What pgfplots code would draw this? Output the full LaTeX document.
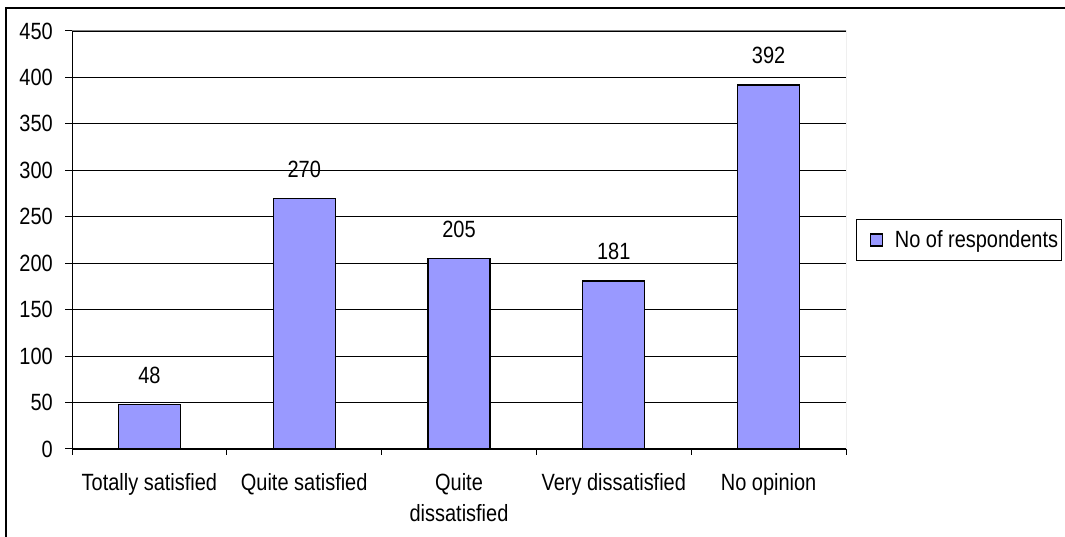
\documentclass[border=0pt]{standalone}
\usepackage{pgfplots}
\pgfplotsset{compat=1.18}
\usepackage{fontspec}
\setmainfont{Liberation Sans}[FakeStretch=0.85]
\definecolor{barblue}{HTML}{9999FF}
\definecolor{bordergray}{HTML}{808080}
\newcommand{\chartfont}{\fontsize{23.5}{31}\selectfont}
\begin{document}
\begin{tikzpicture}[x=1pt,y=1pt]
\useasboundingbox (0,0) rectangle (1065,537);
% outer chart frame (right and bottom edges fall outside the picture)
\draw[line width=2pt] (6,-10) -- (6,529) -- (1080,529);
\begin{axis}[
  at={(72pt,88pt)}, anchor=south west,
  scale only axis, width=774pt, height=418pt,
  ybar, bar width=0.4,
  xmin=-0.5, xmax=4.5, ymin=0, ymax=450,
  ytick={0,50,...,450},
  xtick={0,...,4},
  xticklabels={Totally satisfied, Quite satisfied, {Quite\\dissatisfied}, Very dissatisfied, No opinion},
  minor xtick={-0.5,0.5,...,4.5},
  axis x line*=bottom, axis y line*=left,
  axis line style={black, line width=1pt, -},
  ymajorgrids, grid style={black, line width=0.8pt},
  tick align=outside,
  major tick length=7pt, minor tick length=6pt,
  major x tick style={draw=none},
  minor x tick style={black, line width=1pt},
  ytick style={black, line width=1pt},
  /pgf/number format/assume math mode=true,
  ticklabel style={font=\chartfont},
  yticklabel style={inner sep=0pt, xshift=-12pt},
  xticklabel style={align=center, inner sep=0pt, yshift=-17pt},
  nodes near coords,
  nodes near coords style={font=\chartfont, inner sep=0pt, yshift=20pt},
  legend style={at={(1.013,0.5)}, anchor=west, draw=black, line width=1pt,
    font=\chartfont, inner xsep=1pt, inner ysep=9pt,
    /tikz/every odd column/.append style={column sep=10pt}},
  legend image code/.code={\path (0pt,0pt);
    \draw[fill=barblue, draw=black, line width=1.3pt] (12pt,-6pt) rectangle (24pt,6pt);},
]
\addplot[fill=barblue, draw=black, line width=1.3pt]
  coordinates {(0,48) (1,270) (2,205) (3,181) (4,392)};
\addlegendentry{No of respondents}
\draw[bordergray, line width=1pt] (rel axis cs:0,1) -- (rel axis cs:1,1) -- (rel axis cs:1,0);
\end{axis}
\end{tikzpicture}
\end{document}
